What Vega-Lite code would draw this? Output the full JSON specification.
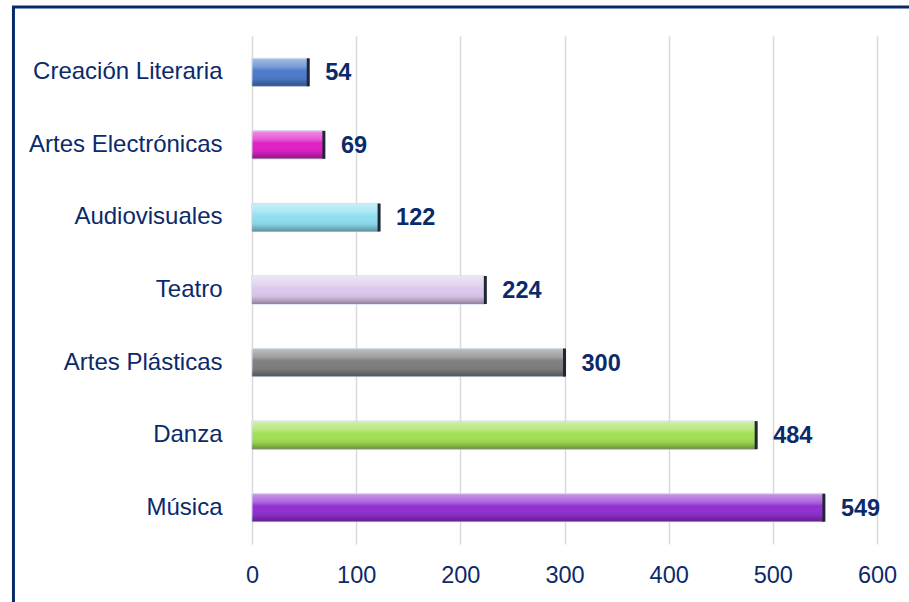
{
  "$schema": "https://vega.github.io/schema/vega-lite/v6.json",
  "width": 625,
  "height": 508,
  "autosize": {"type": "none"},
  "padding": {"left": 252, "top": 36, "right": 32, "bottom": 58},
  "background": "white",
  "config": {
    "view": {"stroke": null},
    "font": "Liberation Sans"
  },
  "data": {
    "values": [
      {"categoria": "Creación Literaria", "valor": 54},
      {"categoria": "Artes Electrónicas", "valor": 69},
      {"categoria": "Audiovisuales", "valor": 122},
      {"categoria": "Teatro", "valor": 224},
      {"categoria": "Artes Plásticas", "valor": 300},
      {"categoria": "Danza", "valor": 484},
      {"categoria": "Música", "valor": 549}
    ]
  },
  "layer": [
    {
      "layer": [
        {
          "mark": {"type": "bar", "size": 28, "stroke": "#c5d3e6", "strokeWidth": 1},
          "encoding": {
            "y": {
              "field": "categoria", "type": "nominal",
              "sort": ["Creación Literaria", "Artes Electrónicas", "Audiovisuales", "Teatro", "Artes Plásticas", "Danza", "Música"],
              "scale": {"paddingInner": 0, "paddingOuter": 0},
              "axis": {"title": null, "ticks": false, "domain": false, "grid": false, "labelFontSize": 24, "labelColor": "#0b2a6b", "labelPadding": 30, "labelLimit": 400, "labelFont": "Liberation Sans"}
            },
            "x": {
              "field": "valor", "type": "quantitative",
              "scale": {"domain": [0, 600], "nice": false},
              "axis": {"grid": true, "gridColor": "#d9d9d9", "gridWidth": 1.5, "ticks": false, "domain": false, "title": null, "labelFontSize": 23.5, "labelColor": "#0b2a6b", "labelPadding": 19, "labelFlush": false, "labelOverlap": false, "labelFont": "Liberation Sans", "values": [0, 100, 200, 300, 400, 500, 600]}
            },
            "color": {
              "field": "categoria", "type": "nominal", "legend": null,
              "scale": {
                "domain": ["Creación Literaria", "Artes Electrónicas", "Audiovisuales", "Teatro", "Artes Plásticas", "Danza", "Música"],
                "range": ["#4c7bcc", "#e020c6", "#8fdff0", "#dcc8ec", "#7f7f7f", "#a2e055", "#9231d2"]
              }
            }
          }
        },
        {
          "mark": {
            "type": "bar", "size": 28,
            "fill": {
              "gradient": "linear", "x1": 0, "y1": 0, "x2": 0, "y2": 1,
              "stops": [
                {"offset": 0, "color": "rgba(255,255,255,0.5)"},
                {"offset": 0.3, "color": "rgba(255,255,255,0.25)"},
                {"offset": 0.45, "color": "rgba(255,255,255,0.0)"},
                {"offset": 0.75, "color": "rgba(0,0,0,0.06)"},
                {"offset": 1, "color": "rgba(0,0,0,0.35)"}
              ]
            }
          },
          "encoding": {
            "y": {"field": "categoria", "type": "nominal", "sort": ["Creación Literaria", "Artes Electrónicas", "Audiovisuales", "Teatro", "Artes Plásticas", "Danza", "Música"]},
            "x": {"field": "valor", "type": "quantitative"}
          }
        },
        {
          "mark": {"type": "tick", "size": 28, "thickness": 3, "color": "#1f2736", "opacity": 1},
          "encoding": {
            "y": {"field": "categoria", "type": "nominal", "sort": ["Creación Literaria", "Artes Electrónicas", "Audiovisuales", "Teatro", "Artes Plásticas", "Danza", "Música"]},
            "x": {"field": "valor", "type": "quantitative"}
          }
        },
        {
          "mark": {"type": "text", "align": "left", "baseline": "middle", "dx": 17, "dy": 1, "fontSize": 23.5, "fontWeight": "bold", "color": "#0b2a6b", "font": "Liberation Sans"},
          "encoding": {
            "y": {"field": "categoria", "type": "nominal", "sort": ["Creación Literaria", "Artes Electrónicas", "Audiovisuales", "Teatro", "Artes Plásticas", "Danza", "Música"]},
            "x": {"field": "valor", "type": "quantitative"},
            "text": {"field": "valor", "type": "quantitative"}
          }
        }
      ]
    },
    {
      "data": {"values": [{"marco": 1}]},
      "mark": {"type": "rect", "fill": null, "stroke": "#0b2a6b", "strokeWidth": 3, "clip": false},
      "encoding": {
        "x": {"datum": -229, "type": "quantitative"},
        "x2": {"datum": 700},
        "y": {"datum": 1.057, "type": "quantitative", "scale": {"domain": [0, 1]}, "axis": null},
        "y2": {"datum": -0.3}
      }
    }
  ],
  "resolve": {"scale": {"y": "independent"}, "axis": {"y": "independent"}}
}
